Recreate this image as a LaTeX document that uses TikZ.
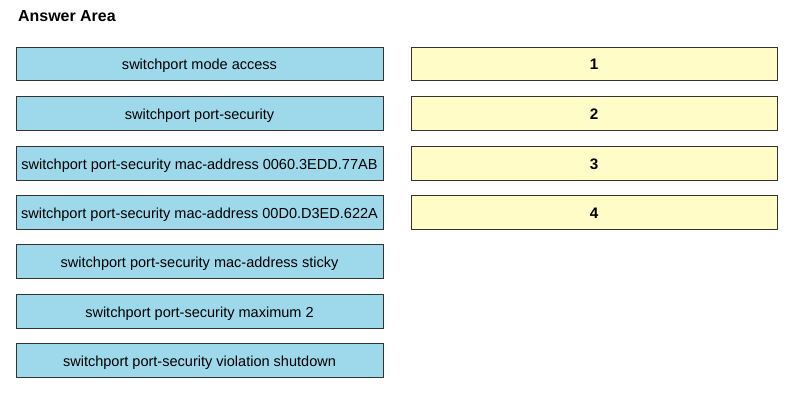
\documentclass[tikz,border=0pt]{standalone}
\usepackage{fontspec}
\setmainfont{Liberation Sans}
\definecolor{cmdblue}{HTML}{9ED9EB}
\definecolor{slotyellow}{HTML}{FFFCC8}

\tikzset{
	cmd/.style={draw=black!80, fill=cmdblue, line width=0.8pt, minimum width=11.01cm, minimum height=1.0cm, inner sep=0pt, text height=0.95em, text depth=0pt, font=\fontsize{12.4}{14}\selectfont},
	slot/.style={draw=black!80, fill=slotyellow, line width=0.8pt, minimum width=10.98cm, minimum height=1.0cm, inner sep=0pt, text height=0.95em, text depth=0pt, font=\bfseries\fontsize{13}{15}\selectfont},
	title/.style={anchor=base west, inner sep=0pt, font=\bfseries\fontsize{13.6}{16}\selectfont}
}

\begin{document}
\begin{tikzpicture}[x=0.03cm, y=0.03cm]
\useasboundingbox (0,0) rectangle (800,-400);

\node (title) at (18,-22) [title] {Answer Area};

\node (cmd1) at (199.5,-64) [cmd] {switchport mode access};
\node (cmd2) at (199.5,-113.5) [cmd] {switchport port-security};
\node (cmd3) at (199.5,-163.5) [cmd] {switchport port-security mac-address 0060.3EDD.77AB};
\node (cmd4) at (199.5,-212.5) [cmd] {switchport port-security mac-address 00D0.D3ED.622A};
\node (cmd5) at (199.5,-261.5) [cmd] {switchport port-security mac-address sticky};
\node (cmd6) at (199.5,-311.5) [cmd] {switchport port-security maximum 2};
\node (cmd7) at (199.5,-360.5) [cmd] {switchport port-security violation shutdown};

\node (slot1) at (594,-64) [slot] {1};
\node (slot2) at (594,-113.5) [slot] {2};
\node (slot3) at (594,-163.5) [slot] {3};
\node (slot4) at (594,-212.5) [slot] {4};

\end{tikzpicture}
\end{document}
